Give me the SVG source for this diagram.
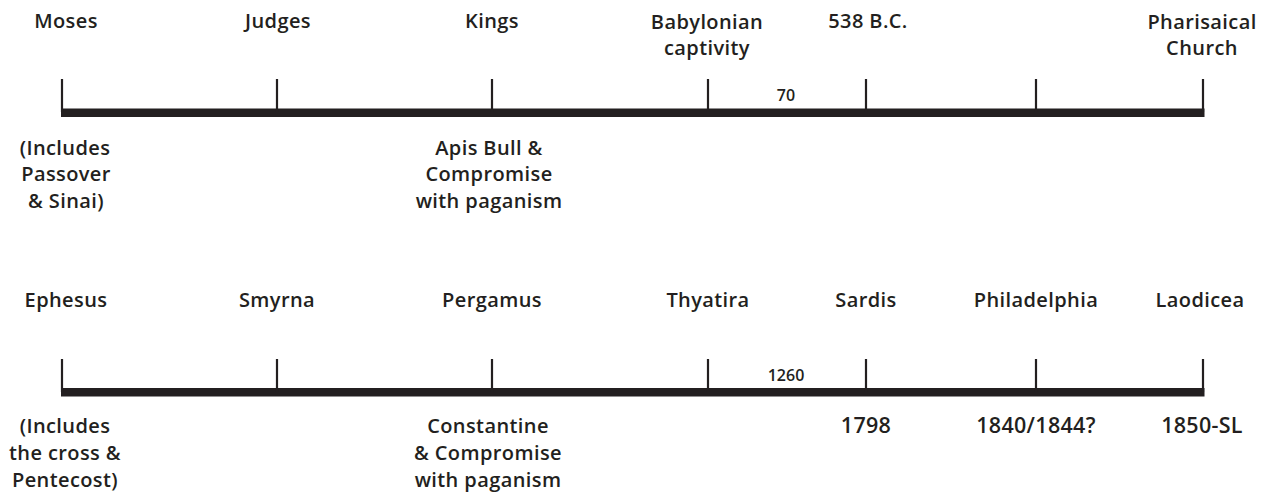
<svg xmlns="http://www.w3.org/2000/svg" width="1266" height="494" viewBox="0 0 1266 494">
<style>
text{font-family:"Open Sans","Noto Sans","Liberation Sans",sans-serif;font-weight:600;font-size:20px;fill:#231f20;text-anchor:middle;letter-spacing:0.4px}
text.num{font-size:16px;letter-spacing:0}
text.year{font-size:21.5px;letter-spacing:0.3px}
.bar{fill:#231f20}
.tick{stroke:#231f20;stroke-width:2.2;fill:none}
</style>
<rect width="1266" height="494" fill="#ffffff"/>
<g id="connectors">
  <g id="timeline-top">
    <rect class="bar" x="61" y="108.5" width="1143.5" height="8.5"/>
    <path class="tick" d="M62,79V112 M277,79V112 M492,79V112 M708,79V112 M866,79V112 M1036,79V112 M1203,79V112"/>
  </g>
  <g id="timeline-bottom">
    <rect class="bar" x="61" y="388" width="1143.5" height="8.5"/>
    <path class="tick" d="M62,359V392 M277,359V392 M492,359V392 M708,359V392 M866,359V392 M1036,359V392 M1203,359V392"/>
  </g>
</g>
<g id="top-labels">
  <g id="moses"><text x="66" y="28">Moses</text></g>
  <g id="judges"><text x="278" y="28">Judges</text></g>
  <g id="kings"><text x="492" y="28">Kings</text></g>
  <g id="babylonian"><text x="707" y="29">Babylonian</text><text x="707" y="55">captivity</text></g>
  <g id="bc538"><text x="868" y="28">538 B.C.</text></g>
  <g id="pharisaical"><text x="1202" y="29">Pharisaical</text><text x="1202" y="55">Church</text></g>
  <g id="seventy"><text class="num" x="786" y="101">70</text></g>
  <g id="includes-top"><text x="65" y="155">(Includes</text><text x="66" y="181">Passover</text><text x="66" y="208">&amp; Sinai)</text></g>
  <g id="apis"><text x="489" y="155">Apis Bull &amp;</text><text x="489" y="181">Compromise</text><text x="489" y="208">with paganism</text></g>
</g>
<g id="bottom-labels">
  <g id="ephesus"><text x="66" y="307">Ephesus</text></g>
  <g id="smyrna"><text x="277" y="307">Smyrna</text></g>
  <g id="pergamus"><text x="492" y="307">Pergamus</text></g>
  <g id="thyatira"><text x="708" y="307">Thyatira</text></g>
  <g id="sardis"><text x="866" y="307">Sardis</text></g>
  <g id="philadelphia"><text x="1036" y="307">Philadelphia</text></g>
  <g id="laodicea"><text x="1200" y="307">Laodicea</text></g>
  <g id="n1260"><text class="num" x="786" y="381">1260</text></g>
  <g id="includes-bottom"><text x="65" y="433">(Includes</text><text x="65" y="460">the cross &amp;</text><text x="65" y="487">Pentecost)</text></g>
  <g id="constantine"><text x="488" y="433">Constantine</text><text x="488" y="460">&amp; Compromise</text><text x="488" y="487">with paganism</text></g>
  <g id="y1798"><text class="year" x="866" y="433">1798</text></g>
  <g id="y1840"><text class="year" x="1036" y="433">1840/1844?</text></g>
  <g id="y1850"><text class="year" x="1202" y="433">1850-SL</text></g>
</g>
</svg>
